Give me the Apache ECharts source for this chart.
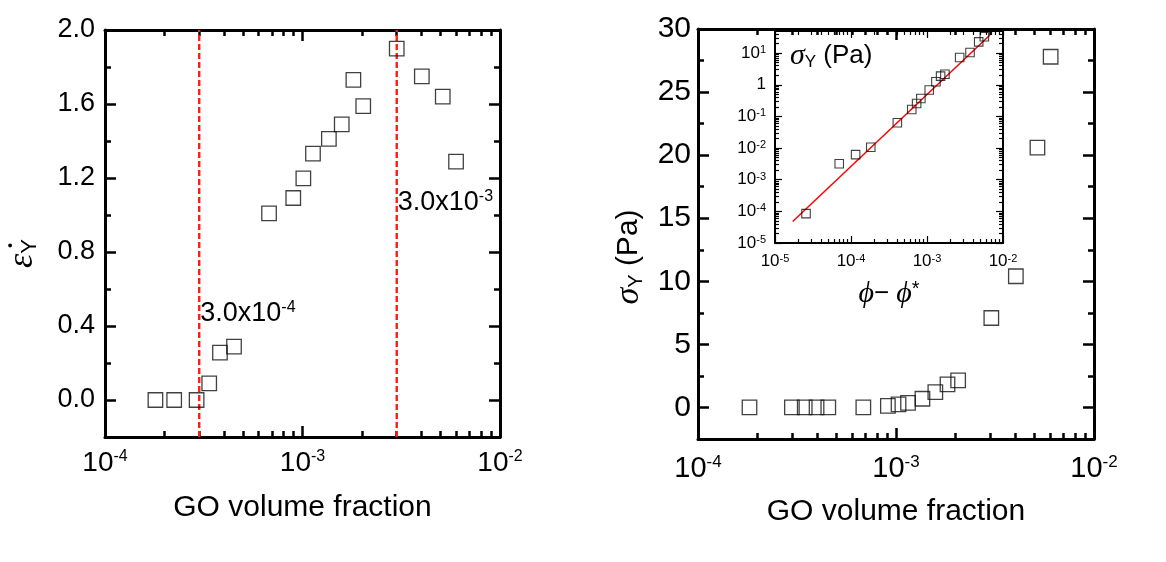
<!DOCTYPE html>
<html><head><meta charset="utf-8">
<script src="https://cdn.jsdelivr.net/npm/echarts@6/dist/echarts.min.js"></script>
<style>html,body{margin:0;padding:0;background:#fff}#c{width:1166px;height:562px}</style>
</head><body><div id="c"></div><script>
// ---- Left panel: yield strain vs GO volume fraction ----
const phiStrain = [1.80e-4, 2.24e-4, 2.91e-4, 3.37e-4, 3.82e-4, 4.50e-4, 6.77e-4, 8.98e-4, 1.01e-3, 1.13e-3, 1.36e-3, 1.58e-3, 1.81e-3, 2.03e-3, 3.00e-3, 4.02e-3, 5.13e-3, 5.99e-3];
const yieldStrain = [0.0, 0.0, 0.0, 0.09, 0.256, 0.288, 1.009, 1.092, 1.198, 1.332, 1.411, 1.490, 1.730, 1.589, 1.899, 1.749, 1.640, 1.288];
const thresholds = [3.0e-4, 3.0e-3];
const thresholdSpan = [-0.2, 2.0];
const thresholdLabelY = [0.47, 1.07];
const thresholdText = [['3.0x10', '-4'], ['3.0x10', '-3']];

// ---- Right panel: yield stress vs GO volume fraction ----
const phiStress = [1.82e-4, 2.98e-4, 3.46e-4, 3.97e-4, 4.55e-4, 6.84e-4, 9.1e-4, 1.03e-3, 1.15e-3, 1.36e-3, 1.58e-3, 1.82e-3, 2.06e-3, 3.03e-3, 4.03e-3, 5.18e-3, 6.04e-3];
const yieldStress = [0, 0, 0, 0, 0, 0, 0.13, 0.24, 0.37, 0.69, 1.22, 1.83, 2.14, 7.09, 10.4, 20.6, 27.8];

// ---- Inset: log-log yield stress vs (phi - phi*) ----
const phiExcess = [2.56e-5, 7.0e-5, 1.15e-4, 1.82e-4, 4.07e-4, 6.3e-4, 7.3e-4, 8.3e-4, 1.07e-3, 1.31e-3, 1.51e-3, 1.72e-3, 2.69e-3, 3.68e-3, 4.79e-3, 5.68e-3];
const stressInset = [8.5e-5, 3.2e-3, 6.2e-3, 1.06e-2, 0.063, 0.166, 0.257, 0.37, 0.68, 1.24, 1.87, 2.16, 7.3, 10.5, 22.7, 32.8];
const fitX = [1.71e-5, 6.74e-3];
const fitY = [4.8e-5, 37.2];

// ---- Tick values ----
const strainTicks = [0, 0.4, 0.8, 1.2, 1.6, 2.0];
const strainMinor = [0.2, 0.6, 1.0, 1.4, 1.8];
const stressTicks = [0, 5, 10, 15, 20, 25, 30];
const stressMinor = [2.5, 7.5, 12.5, 17.5, 22.5, 27.5];
const mainDecades = [1e-4, 1e-3, 1e-2];
const insetXDecades = [1e-5, 1e-4, 1e-3, 1e-2];
const insetYDecades = [1e-5, 1e-4, 1e-3, 1e-2, 1e-1, 1, 10];

function minorsOf(decades, lo, hi) {
  const out = [];
  decades.forEach(d => { for (let k = 2; k <= 9; k++) { const v = k * d; if (v > lo && v < hi) out.push(v); } });
  return out;
}
function zip(a, b) { return a.map((v, i) => [v, b[i]]); }

const FONT = 'Liberation Sans';
const GREEK = 'Liberation Serif';
const BLACK = '#000';

function powLabel(v, oneAsOne) {
  const e = Math.round(Math.log10(v));
  if (oneAsOne && e === 0) return '{b|1}';
  return '{b|10}{s|' + e + '}';
}
function richPow(big, small) {
  return {
    b: { fontSize: big, fontFamily: FONT, color: BLACK },
    s: { fontSize: small, fontFamily: FONT, color: BLACK, verticalAlign: 'top' }
  };
}

function axisPair(type, grid, pos, min, max, major, minor, cfg) {
  const base = { type: type, gridIndex: grid, position: pos, min: min, max: max, splitLine: { show: false } };
  if (type === 'log') base.logBase = 10;
  const main = Object.assign({}, base, {
    axisLine: { show: true, onZero: false, lineStyle: { color: BLACK, width: cfg.lineW } },
    axisTick: { show: true, inside: true, length: cfg.majorLen, customValues: major, lineStyle: { color: BLACK, width: cfg.tickW } },
    axisLabel: cfg.label ? Object.assign({ show: true, customValues: major }, cfg.label) : { show: false }
  });
  if (cfg.name) Object.assign(main, cfg.name);
  const mn = Object.assign({}, base, {
    axisLine: { show: false, onZero: false },
    axisTick: { show: true, inside: true, length: cfg.minorLen, customValues: minor, lineStyle: { color: BLACK, width: cfg.tickW } },
    axisLabel: { show: false }
  });
  return [main, mn];
}

const xAxes = [], yAxes = [];
const mainCfg = { lineW: 3, tickW: 2.5, majorLen: 11, minorLen: 6 };

// Left panel grid 0 : x axes 0..3, y axes 0..3
const mainMinorX = minorsOf(mainDecades, 1e-4, 1e-2);
xAxes.push(...axisPair('log', 0, 'bottom', 1e-4, 1e-2, mainDecades, mainMinorX, Object.assign({}, mainCfg, {
  label: { margin: 12, formatter: v => powLabel(v), rich: richPow(28, 16) },
  name: { name: 'GO volume fraction', nameLocation: 'middle', nameGap: 56, nameTextStyle: { fontFamily: FONT, fontSize: 30, color: BLACK, verticalAlign: 'top' } }
})));
xAxes.push(...axisPair('log', 0, 'top', 1e-4, 1e-2, mainDecades, mainMinorX, mainCfg));
yAxes.push(...axisPair('value', 0, 'left', -0.2, 2.0, strainTicks, strainMinor, Object.assign({}, mainCfg, {
  label: { margin: 10, fontFamily: FONT, fontSize: 27, color: BLACK, formatter: v => v.toFixed(1) },
  name: { name: '{e|ε̇}{y|Y}', nameLocation: 'middle', nameGap: 64, nameRotate: 90,
    nameTextStyle: { padding: [0, 40, 0, 0], rich: { e: { fontFamily: GREEK, fontStyle: 'italic', fontSize: 36, color: BLACK }, y: { fontFamily: FONT, fontSize: 22, color: BLACK, verticalAlign: 'bottom' } } } }
})));
yAxes.push(...axisPair('value', 0, 'right', -0.2, 2.0, strainTicks, strainMinor, mainCfg));

// Right panel grid 1 : x axes 4..7, y axes 4..7
xAxes.push(...axisPair('log', 1, 'bottom', 1e-4, 1e-2, mainDecades, mainMinorX, Object.assign({}, mainCfg, {
  label: { margin: 15, formatter: v => powLabel(v), rich: richPow(29, 17) },
  name: { name: 'GO volume fraction', nameLocation: 'middle', nameGap: 58, nameTextStyle: { fontFamily: FONT, fontSize: 30, color: BLACK, verticalAlign: 'top' } }
})));
xAxes.push(...axisPair('log', 1, 'top', 1e-4, 1e-2, mainDecades, mainMinorX, mainCfg));
yAxes.push(...axisPair('value', 1, 'left', -2.5, 30, stressTicks, stressMinor, Object.assign({}, mainCfg, {
  label: { margin: 7, fontFamily: FONT, fontSize: 30, color: BLACK, formatter: v => String(v) },
  name: { name: '{s|σ}{y|Y}{n| (Pa)}', nameLocation: 'middle', nameGap: 52, nameRotate: 90,
    nameTextStyle: { padding: [0, 46, 0, 0], rich: { s: { fontFamily: GREEK, fontStyle: 'italic', fontSize: 34, color: BLACK }, y: { fontFamily: FONT, fontSize: 20, color: BLACK, verticalAlign: 'bottom' }, n: { fontFamily: FONT, fontSize: 30, color: BLACK } } } }
})));
yAxes.push(...axisPair('value', 1, 'right', -2.5, 30, stressTicks, stressMinor, mainCfg));

// Inset grid 2 : x axes 8..11, y axes 8..11
const insetCfg = { lineW: 2, tickW: 1.2, majorLen: 7, minorLen: 4 };
const insetMinorX = minorsOf(insetXDecades, 1e-5, 1e-2);
const insetMinorY = minorsOf(insetYDecades, 1e-5, 50);
xAxes.push(...axisPair('log', 2, 'bottom', 1e-5, 1e-2, insetXDecades, insetMinorX, Object.assign({}, insetCfg, {
  label: { margin: 10, formatter: v => powLabel(v), rich: richPow(17, 11) },
  name: { name: '{p|ϕ}{m|− }{p|ϕ}{a|*}', nameLocation: 'middle', nameGap: 36, nameTextStyle: { verticalAlign: 'top',
    rich: { p: { fontFamily: GREEK, fontStyle: 'italic', fontSize: 30, color: BLACK }, m: { fontFamily: FONT, fontSize: 26, color: BLACK }, a: { fontFamily: FONT, fontSize: 20, color: BLACK, verticalAlign: 'top' } } } }
})));
xAxes.push(...axisPair('log', 2, 'top', 1e-5, 1e-2, insetXDecades, insetMinorX, insetCfg));
yAxes.push(...axisPair('log', 2, 'left', 1e-5, 50, insetYDecades, insetMinorY, Object.assign({}, insetCfg, {
  label: { margin: 9, formatter: v => powLabel(v, true), rich: richPow(17, 11) }
})));
yAxes.push(...axisPair('log', 2, 'right', 1e-5, 50, insetYDecades, insetMinorY, insetCfg));

const squareStyle = { color: 'rgba(0,0,0,0)', borderColor: '#111', borderWidth: 1.3 };

const option = {
  backgroundColor: '#fff',
  animation: false,
  grid: [
    { left: 105, top: 30, width: 395, height: 407, containLabel: false },
    { left: 698, top: 29, width: 396, height: 410, containLabel: false },
    { left: 775, top: 31, width: 228, height: 212, containLabel: false, show: true, backgroundColor: '#fff', borderWidth: 0 }
  ],
  title: [{
    text: '{s|σ}{y|Y}{n| (Pa)}', left: 785, top: 36,
    textStyle: { fontWeight: 'normal', rich: { s: { fontFamily: GREEK, fontStyle: 'italic', fontWeight: 'normal', fontSize: 30, color: BLACK }, y: { fontFamily: FONT, fontWeight: 'normal', fontSize: 17, color: BLACK, verticalAlign: 'bottom' }, n: { fontFamily: FONT, fontWeight: 'normal', fontSize: 26, color: BLACK } } }
  }],
  xAxis: xAxes,
  yAxis: yAxes,
  series: thresholds.map(v => ({
      type: 'line', xAxisIndex: 0, yAxisIndex: 0, data: thresholdSpan.map(y => [v, y]),
      showSymbol: false, silent: true, z: 2,
      lineStyle: { color: '#ff1a1a', width: 2.4, type: [6, 3] }
    })).concat([
    {
      type: 'scatter', xAxisIndex: 0, yAxisIndex: 0, data: zip(phiStrain, yieldStrain),
      symbol: 'rect', symbolSize: 14.5, itemStyle: squareStyle, z: 3
    },
    {
      type: 'scatter', xAxisIndex: 0, yAxisIndex: 0, symbolSize: 0, silent: true,
      data: thresholds.map((v, i) => [v, thresholdLabelY[i]]),
      label: {
        show: true, position: 'right', distance: 1, color: BLACK,
        formatter: p => '{b|' + thresholdText[p.dataIndex][0] + '}{s|' + thresholdText[p.dataIndex][1] + '}',
        rich: richPow(27, 16)
      },
      itemStyle: { color: BLACK, opacity: 1 }
    },
    {
      type: 'scatter', xAxisIndex: 4, yAxisIndex: 4, data: zip(phiStress, yieldStress),
      symbol: 'rect', symbolSize: 14.5, itemStyle: squareStyle, z: 3
    },
    {
      type: 'line', xAxisIndex: 8, yAxisIndex: 8, data: zip(fitX, fitY), showSymbol: false, silent: true,
      lineStyle: { color: '#ff0000', width: 1.5 }, z: 4
    },
    {
      type: 'scatter', xAxisIndex: 8, yAxisIndex: 8, data: zip(phiExcess, stressInset),
      symbol: 'rect', symbolSize: 8.5, itemStyle: { color: 'rgba(0,0,0,0)', borderColor: '#111', borderWidth: 1.1 }, z: 5
    }
  ])
};
const chart = echarts.init(document.getElementById('c'), null, { renderer: 'canvas' });
chart.setOption(option);
</script></body></html>
